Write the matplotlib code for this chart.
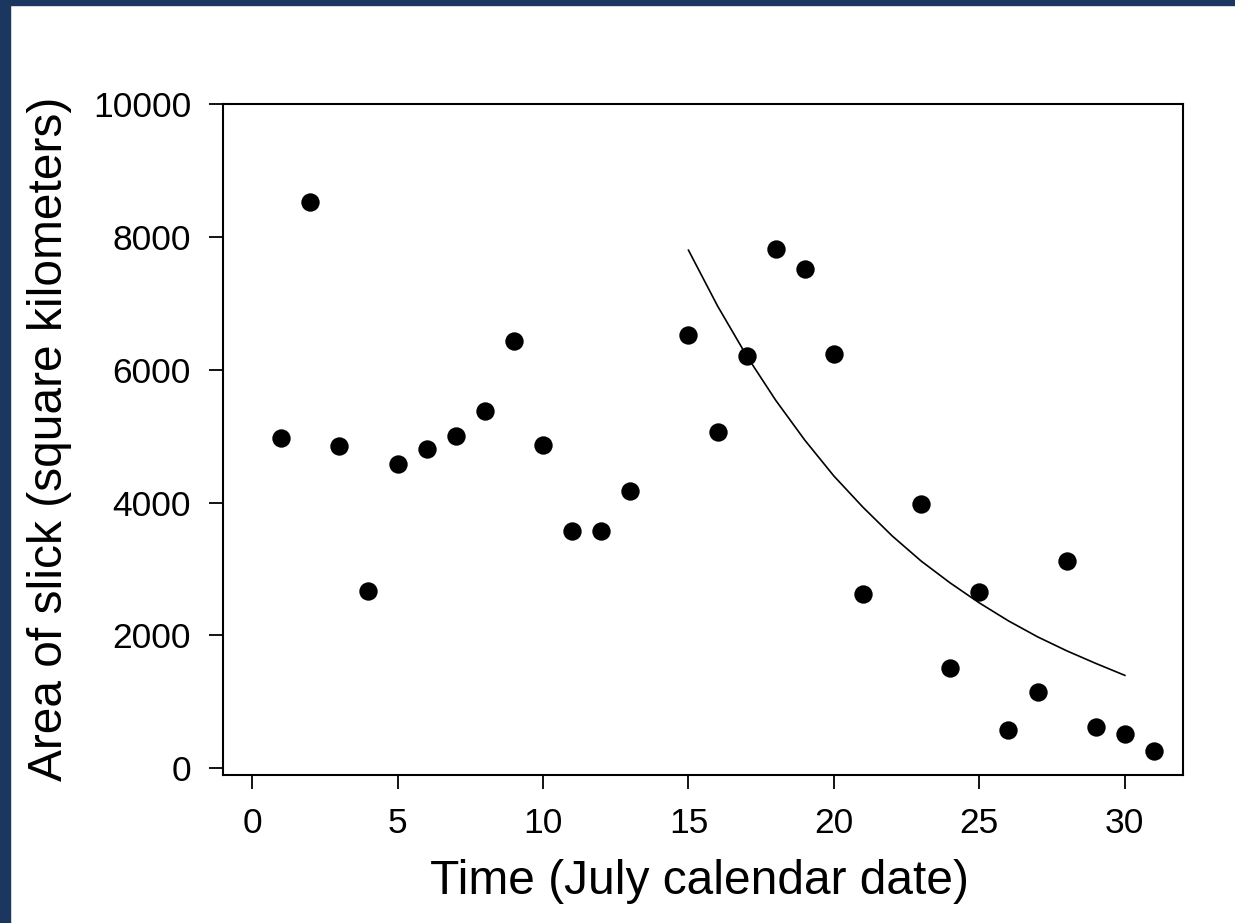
"""Oil slick area over July with exponential decay fit."""

import matplotlib

matplotlib.use("Agg")
from matplotlib import pyplot as plt  # noqa: E402
from matplotlib.patches import Rectangle  # noqa: E402

plt.rcParams["font.family"] = ["Liberation Sans", "DejaVu Sans"]

# observed slick area by July date
days = [1, 2, 3, 4, 5, 6, 7, 8, 9, 10, 11, 12, 13, 15, 16, 17, 18, 19, 20,
        21, 23, 24, 25, 26, 27, 28, 29, 30, 31]
area = [4980, 8530, 4850, 2670, 4580, 4810, 5000, 5380, 6430, 4860, 3570,
        3580, 4180, 6520, 5060, 6210, 7810, 7510, 6230, 2630, 3980, 1510,
        2650, 570, 1150, 3120, 630, 520, 260]

# fitted decay curve at each day
fit_days = [15, 16, 17, 18, 19, 20, 21, 22, 23, 24, 25, 26, 27, 28, 29, 30]
fit_area = [7800, 6960, 6210, 5540, 4940, 4400, 3930, 3500, 3120, 2790,
            2490, 2220, 1980, 1770, 1580, 1400]

x_ticks = [0, 5, 10, 15, 20, 25, 30]
y_ticks = [0, 2000, 4000, 6000, 8000, 10000]

W, H = 1235, 923
figure = plt.figure(figsize=(W / 100, H / 100), dpi=100)
border = "#1b365f"
figure.patches.append(Rectangle((0, 1 - 5 / H), 1, 5 / H, transform=figure.transFigure,
                                color=border, zorder=0))
figure.patches.append(Rectangle((0, 0), 10 / W, 1, transform=figure.transFigure,
                                color=border, zorder=0))

axis = figure.add_axes([223 / W, 1 - 775 / H, (1183 - 223) / W, (775 - 104) / H])
axis.scatter(days, area, s=175, color="black", zorder=3, linewidths=0)
axis.plot(fit_days, fit_area, color="black", linewidth=1.2, zorder=2)

axis.set_xlim(-1, 32)
axis.set_ylim(-100, 10000)
axis.set_xticks(x_ticks)
axis.set_yticks(y_ticks)
axis.tick_params(direction="out", length=10, width=1.3, labelsize=25.5,
                 colors="black")
axis.tick_params(axis="y", pad=13)
axis.tick_params(axis="x", pad=13)
for spine in axis.spines.values():
    spine.set_linewidth(1.5)

figure.text(700 / W, 1 - 882 / H, "Time (July calendar date)", ha="center",
            va="center", fontsize=34.5)
figure.text(50 / W, 1 - 439 / H, "Area of slick (square kilometers)",
            ha="center", va="center", rotation=90, fontsize=34.5)

figure.savefig("out.png", dpi=100)
plt.close(figure)
